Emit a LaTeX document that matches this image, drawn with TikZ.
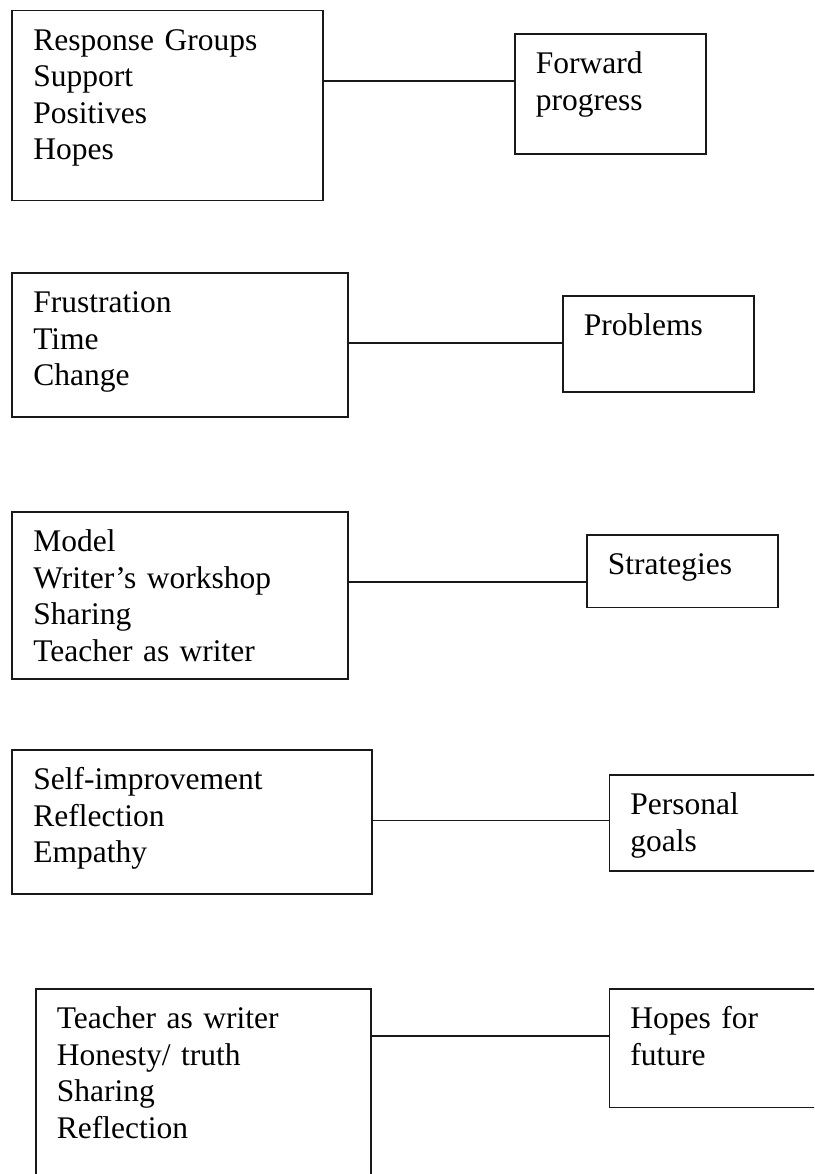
\documentclass[tikz,border=0pt]{standalone}
\usepackage{fontspec}
\setmainfont{Liberation Serif}
\tikzset{
  themebox/.style={draw=black!90, line width=1.8pt, anchor=north west,
    align=left, inner xsep=21pt, inner ysep=0pt, text height=40pt,
    font=\fontsize{31.5pt}{36.5pt}\selectfont},
  linkline/.style={draw=black!90, line width=1.5pt}
}

\begin{document}
\begin{tikzpicture}[x=1pt, y=-1pt]
  \useasboundingbox (0,0) rectangle (814,1174);
  \clip (0,0) rectangle (814,1174);

  \node[themebox, text width=268.6pt, text depth=150pt] (fwdlist)
    at (11.4,9.6) {Response Groups\\Support\\Positives\\Hopes};
  \node[themebox, text width=149pt, text depth=80pt] (fwd)
    at (514,33) {Forward\\progress};

  \node[themebox, text width=293.6pt, text depth=104pt] (problist)
    at (11.4,272) {Frustration\\Time\\Change};
  \node[themebox, text width=149pt, text depth=56pt] (prob)
    at (562,295) {Problems};

  \node[themebox, text width=293.6pt, text depth=127pt] (stratlist)
    at (11.4,511) {Model\\Writer’s workshop\\Sharing\\Teacher as writer};
  \node[themebox, text width=149pt, text depth=32.5pt] (strat)
    at (586,534) {Strategies};

  \node[themebox, text width=317.6pt, text depth=104pt] (goallist)
    at (11.4,749) {Self-improvement\\Reflection\\Empathy};
  \node[themebox, text width=200pt, text depth=56pt] (goal)
    at (608.5,774) {Personal\\goals};

  \node[themebox, text width=293pt, text depth=200pt] (hopelist)
    at (35,988) {Teacher as writer\\Honesty/ truth\\Sharing\\Reflection};
  \node[themebox, text width=200pt, text depth=78.5pt] (hope)
    at (608.5,988) {Hopes for\\future};

  \coordinate (fwdlink) at ([yshift=-71.4pt]fwdlist.north east);
  \coordinate (problink) at ([yshift=-71pt]problist.north east);
  \coordinate (stratlink) at ([yshift=-71pt]stratlist.north east);
  \coordinate (goallink) at ([yshift=-71.5pt]goallist.north east);
  \coordinate (hopelink) at ([yshift=-48pt]hopelist.north east);

  \draw[linkline] (fwdlink) -- (fwdlink -| fwd.west);
  \draw[linkline] (problink) -- (problink -| prob.west);
  \draw[linkline] (stratlink) -- (stratlink -| strat.west);
  \draw[linkline] (goallink) -- (goallink -| goal.west);
  \draw[linkline] (hopelink) -- (hopelink -| hope.west);
\end{tikzpicture}
\end{document}
